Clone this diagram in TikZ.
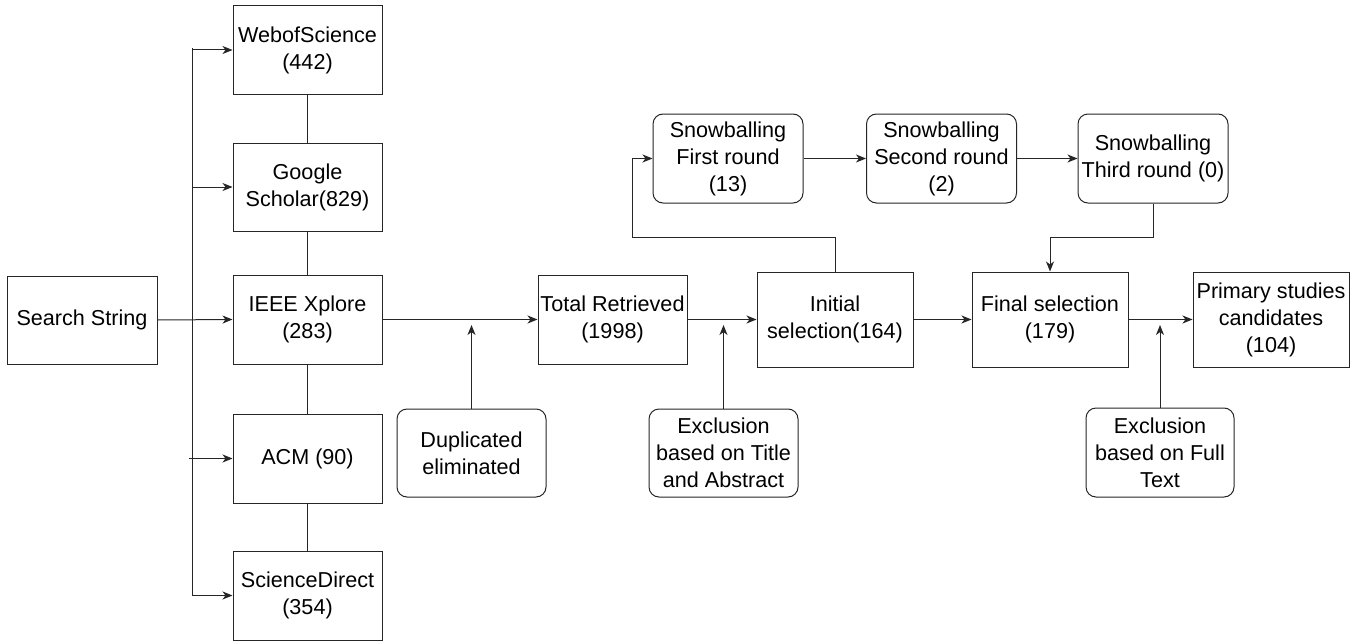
\documentclass[tikz,border=0pt]{standalone}
\usepackage{fontspec}
\setmainfont{Liberation Sans}
\usetikzlibrary{arrows.meta}
\begin{document}
\begin{tikzpicture}[x=0.75pt,y=-0.75pt,
  every node/.style={font=\fontsize{16.2}{20.25}\selectfont, align=center, inner sep=0pt},
  box/.style 2 args={draw=black!85, line width=0.75pt, minimum width=#1*0.75pt, minimum height=#2*0.75pt},
  rbox/.style 2 args={box={#1}{#2}, rounded corners=7.5pt},
  link/.style={draw=black!85, line width=0.75pt},
  arr/.style={link, -{Stealth[length=7.5pt,width=6pt,inset=2.2pt]}}]
\useasboundingbox (0,0) rectangle (1359,642);
\fill[white] (0,0) rectangle (1359,642);
% nodes
\node[box={150}{88}] (ss) at (82,320) {Search String};
\node[box={149}{88}] (web) at (307.5,50) {WebofScience\\(442)};
\node[box={149}{88}] (gs) at (307.5,187) {Google\\Scholar(829)};
\node[box={149}{89}] (ieee) at (307.5,319.5) {IEEE Xplore\\(283)};
\node[box={149}{89}] (acm) at (307.5,458.5) {ACM (90)};
\node[box={149}{89}] (sd) at (307.5,595.5) {ScienceDirect\\(354)};
\node[box={149}{89}] (tot) at (612.5,319.5) {Total Retrieved\\(1998)};
\node[rbox={149}{88}] (dup) at (471.5,453) {Duplicated\\eliminated};
\node[box={156}{95}] (init) at (835,319.5) {Initial\\selection(164)};
\node[rbox={149}{88}] (exta) at (723.5,453) {Exclusion\\based on Title\\and Abstract};
\node[box={156}{95}] (fin) at (1050,319.5) {Final selection\\(179)};
\node[box={156}{95}] (prim) at (1271,319.5) {Primary studies\\candidates\\(104)};
\node[rbox={148}{89}] (extf) at (1160,452.5) {Exclusion\\based on Full\\Text};
\node[rbox={150}{89}] (sb1) at (728,158.5) {Snowballing\\First round\\(13)};
\node[rbox={150}{89}] (sb2) at (941.5,158.5) {Snowballing\\Second round\\(2)};
\node[rbox={150}{89}] (sb3) at (1153,158.5) {Snowballing\\Third round (0)};
% coordinates
\coordinate (j) at (192,320);
\coordinate (jtop) at (192,48);
\coordinate (jacm) at (189,458.5);
\coordinate (dupt) at (471.5,325);
\coordinate (extat) at (723.5,325);
\coordinate (extft) at (1160,325);
% search string fan-out
\draw[arr] (ss.east) -- (ieee.west);
\draw[link] (jtop) -- (192,596);
\draw[arr] (j) |- (web.west);
\draw[arr] (j) |- (gs.west);
\draw[arr] (jacm) -- (acm.west);
\draw[arr] (j) |- (sd.west);
% database chain
\draw[link] (web) -- (gs);
\draw[link] (gs) -- (ieee);
\draw[link] (ieee) -- (acm);
\draw[link] (acm) -- (sd);
% main flow
\draw[arr] (ieee.east) -- (tot.west);
\draw[arr] (tot.east) -- (init.west);
\draw[arr] (init.east) -- (fin.west);
\draw[arr] (fin.east) -- (prim.west);
\draw[arr] (dup) -- (dupt);
\draw[arr] (exta) -- (extat);
\draw[arr] (extf) -- (extft);
% snowballing
\draw[arr] (init.north) -- (835,237) -- (632,237) |- (sb1.west);
\draw[arr] (sb1.east) -- (sb2.west);
\draw[arr] (sb2.east) -- (sb3.west);
\draw[arr] (sb3.south) -- (1153,237) -- (1050,237) -- (fin.north);
\end{tikzpicture}
\end{document}
